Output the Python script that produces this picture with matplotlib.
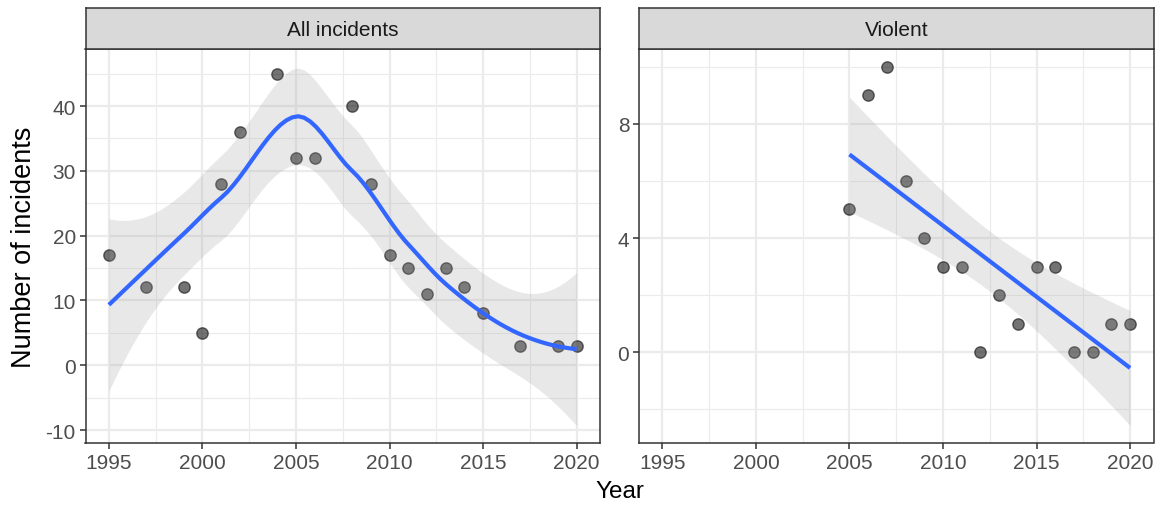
import math
import numpy as np
import matplotlib
matplotlib.use("Agg")
import matplotlib.pyplot as plt
from matplotlib.ticker import FixedLocator

plt.rcParams['font.family'] = ['Liberation Sans', 'DejaVu Sans']
plt.rcParams['axes.unicode_minus'] = False

# data
all_years = [1995, 1997, 1999, 2000, 2001, 2002, 2004, 2005, 2006, 2008,
             2009, 2010, 2011, 2012, 2013, 2014, 2015, 2017, 2019, 2020]
all_counts = [17, 12, 12, 5, 28, 36, 45, 32, 32, 40,
              28, 17, 15, 11, 15, 12, 8, 3, 3, 3]

violent_years = [2005, 2006, 2007, 2008, 2009, 2010, 2011, 2012,
                 2013, 2014, 2015, 2016, 2017, 2018, 2019, 2020]
violent_counts = [5, 9, 10, 6, 4, 3, 3, 0, 2, 1, 3, 3, 0, 0, 1, 1]

panel_titles = ["All incidents", "Violent"]
x_ticks = [1995, 2000, 2005, 2010, 2015, 2020]


def t_ppf(p, df):
    # student t quantile, bisection on a numerically integrated cdf
    c = math.exp(math.lgamma((df + 1) / 2) - math.lgamma(df / 2)) / math.sqrt(df * math.pi)

    def cdf(t):
        g = np.linspace(0, t, 4001)
        return 0.5 + np.trapezoid(c * (1 + g**2 / df) ** (-(df + 1) / 2), g)

    lo, hi = 0.0, 50.0
    for _ in range(60):
        mid = (lo + hi) / 2
        if cdf(mid) < p:
            lo = mid
        else:
            hi = mid
    return (lo + hi) / 2


def local_rows(x, x0, q):
    # local quadratic fit at x0 -> operator rows for value and slope
    d = np.abs(x - x0)
    h = np.sort(d)[q - 1]
    w = np.clip(1 - (d / h) ** 3, 0, None) ** 3
    X = np.column_stack([np.ones(len(x)), x - x0, (x - x0) ** 2])
    XtW = X.T * w
    sol = np.linalg.solve(XtW @ X, XtW)
    return sol[0], sol[1]


def kd_vertices(xsorted, fc):
    rng = xsorted[-1] - xsorted[0]
    verts = [xsorted[0] - 0.005 * rng, xsorted[-1] + 0.005 * rng]

    def split(lo, hi):
        if hi - lo + 1 <= fc:
            return
        m = (lo + hi) // 2
        verts.append(xsorted[m])
        split(lo, m)
        split(m + 1, hi)

    split(0, len(xsorted) - 1)
    return np.array(sorted(set(verts)))


def loess_rows(x, xs, span=0.75):
    # loess operator, vertex fits joined by cubic hermite interpolation
    n = len(x)
    q = int(np.floor(n * span))
    verts = kd_vertices(np.sort(x), max(1, int(np.floor(n * span * 0.2))))
    v0, v1 = zip(*[local_rows(x, v, q) for v in verts])
    v0, v1 = np.array(v0), np.array(v1)
    rows = []
    for x0 in xs:
        k = min(max(np.searchsorted(verts, x0) - 1, 0), len(verts) - 2)
        dx = verts[k + 1] - verts[k]
        t = (x0 - verts[k]) / dx
        h00 = 2 * t**3 - 3 * t**2 + 1
        h10 = t**3 - 2 * t**2 + t
        h01 = -2 * t**3 + 3 * t**2
        h11 = t**3 - t**2
        rows.append(h00 * v0[k] + h10 * dx * v1[k] + h01 * v0[k + 1] + h11 * dx * v1[k + 1])
    return np.array(rows)


def loess_smooth(x, y, npts=80):
    x = np.asarray(x, float)
    y = np.asarray(y, float)
    xs = np.linspace(x.min(), x.max(), npts)
    L = loess_rows(x, x)
    res = y - L @ y
    I = np.eye(len(x))
    M = (I - L).T @ (I - L)
    d1 = np.trace(M)
    d2 = np.trace(M @ M)
    s = math.sqrt(np.sum(res**2) / d1)
    Ls = loess_rows(x, xs)
    fit = Ls @ y
    se = s * np.sqrt(np.sum(Ls**2, axis=1))
    tq = t_ppf(0.975, d1**2 / d2)
    return xs, fit, fit - tq * se, fit + tq * se


def lm_smooth(x, y, npts=80):
    x = np.asarray(x, float)
    y = np.asarray(y, float)
    n = len(x)
    xm = x.mean()
    sxx = np.sum((x - xm) ** 2)
    b = np.sum((x - xm) * (y - y.mean())) / sxx
    a = y.mean() - b * xm
    s = math.sqrt(np.sum((y - a - b * x) ** 2) / (n - 2))
    xs = np.linspace(x.min(), x.max(), npts)
    fit = a + b * xs
    se = s * np.sqrt(1 / n + (xs - xm) ** 2 / sxx)
    tq = t_ppf(0.975, n - 2)
    return xs, fit, fit - tq * se, fit + tq * se


W, H = 1158, 506
fig = plt.figure(figsize=(W / 100, H / 100), dpi=100)

panels = [
    dict(left=85.5, yl=(-12.0, 48.8), yt=[-10, 0, 10, 20, 30, 40],
         ym=[-5, 5, 15, 25, 35, 45], x=all_years, y=all_counts, fit=loess_smooth),
    dict(left=639, yl=(-3.18, 10.62), yt=[0, 4, 8],
         ym=[-2, 2, 6, 10], x=violent_years, y=violent_counts, fit=lm_smooth),
]
pw = 514.5
top, bot, strip_top = 50, 444, 9
grey20 = '#333333'

for i, p in enumerate(panels):
    ax = fig.add_axes([p['left'] / W, (H - bot) / H, pw / W, (bot - top) / H])
    ax.set_xlim(1993.75, 2021.25)
    ax.set_ylim(*p['yl'])
    ax.xaxis.set_major_locator(FixedLocator(x_ticks))
    ax.xaxis.set_minor_locator(FixedLocator([1997.5, 2002.5, 2007.5, 2012.5, 2017.5]))
    ax.yaxis.set_major_locator(FixedLocator(p['yt']))
    ax.yaxis.set_minor_locator(FixedLocator(p['ym']))
    ax.grid(which='major', color='#EBEBEB', lw=1.6)
    ax.grid(which='minor', color='#EBEBEB', lw=0.8)
    ax.set_axisbelow(True)
    ax.tick_params(which='major', length=4, width=1.1, color=grey20,
                   labelsize=15, labelcolor='#4D4D4D', pad=3)
    ax.tick_params(which='minor', length=0)
    for sp in ax.spines.values():
        sp.set_color(grey20)
        sp.set_linewidth(1.1)

    ax.plot(p['x'], p['y'], 'o', color='black', alpha=0.55, ms=8.2, mew=1.0, zorder=3)
    xs, fit, lo, hi = p['fit'](p['x'], p['y'])
    ax.fill_between(xs, lo, hi, color='#999999', alpha=0.22, lw=0, zorder=4)
    ax.plot(xs, fit, color='#3366FF', lw=3, zorder=5, solid_capstyle='butt')

    sax = fig.add_axes([p['left'] / W, (H - top) / H, pw / W, (top - strip_top) / H])
    sax.set_facecolor('#D9D9D9')
    sax.set_xticks([])
    sax.set_yticks([])
    for sp in sax.spines.values():
        sp.set_color(grey20)
        sp.set_linewidth(1.1)
    sax.text(0.5, 0.48, panel_titles[i], ha='center', va='center',
             fontsize=15, color='#1A1A1A', transform=sax.transAxes)

    if i == 0:
        ax.set_ylabel('Number of incidents', fontsize=19.5, labelpad=6)

fig.text(0.5 * (85.5 + 639 + pw) / W, (H - 492) / H, 'Year', ha='center', va='center',
         fontsize=17.5)

fig.savefig('out.png', dpi=100)
